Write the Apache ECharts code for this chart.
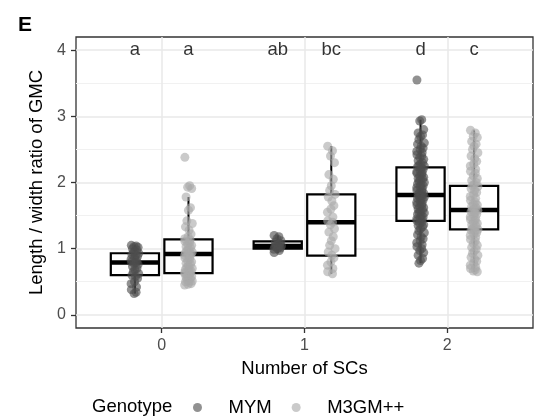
<!DOCTYPE html>
<html>
<head>
<meta charset="utf-8">
<script src="https://cdn.jsdelivr.net/npm/echarts@6/dist/echarts.min.js"></script>
<style>
  html, body { margin: 0; padding: 0; background: #ffffff; }
  #chart { width: 540px; height: 418px; }
</style>
</head>
<body>
<div id="chart"></div>
<script>
// Number of SCs (x categories) and genotypes
const categories = ['0', '1', '2'];
const genotypes = ['MYM', 'M3GM++'];
const yTicks = [0, 1, 2, 3, 4];
const yMinorTicks = [0.5, 1.5, 2.5, 3.5];

// Box summaries per category: [lower whisker, Q1, median, Q3, upper whisker]
const mymBoxes = [
  [0.32, 0.60, 0.79, 0.93, 1.05],
  [0.93, 1.00, 1.04, 1.11, 1.20],
  [0.78, 1.42, 1.81, 2.23, 2.95]
];
const m3gmBoxes = [
  [0.45, 0.63, 0.92, 1.14, 1.78],
  [0.62, 0.895, 1.40, 1.82, 2.55],
  [0.65, 1.29, 1.585, 1.95, 2.79]
];

// Individual GMC length / width ratios
const mymPoints0 = [1.05, 1.04, 1.03, 1.02, 1.00, 0.98, 0.96, 0.94, 0.93, 0.91, 0.90, 0.88, 0.86,
  0.84, 0.82, 0.80, 0.79, 0.78, 0.76, 0.73, 0.70, 0.68, 0.65, 0.62, 0.60, 0.58, 0.55, 0.50, 0.47,
  0.42, 0.38, 0.34, 0.32];
const mymPoints1 = [1.20, 1.18, 1.15, 1.12, 1.10, 1.08, 1.06, 1.05, 1.04, 1.03, 1.02, 1.01, 1.00,
  0.99, 0.97, 0.94];
const mymPoints2 = [3.55, 2.95, 2.93, 2.80, 2.75, 2.72, 2.70, 2.65, 2.60, 2.58, 2.55, 2.52, 2.50,
  2.47, 2.45, 2.42, 2.40, 2.38, 2.35, 2.33, 2.30, 2.28, 2.26, 2.25, 2.24, 2.22, 2.20, 2.18, 2.16,
  2.15, 2.14, 2.12, 2.10, 2.08, 2.06, 2.05, 2.04, 2.02, 2.00, 1.98, 1.96, 1.95, 1.94, 1.92, 1.90,
  1.88, 1.86, 1.85, 1.84, 1.82, 1.81, 1.80, 1.79, 1.78, 1.76, 1.75, 1.74, 1.72, 1.70, 1.68, 1.66,
  1.65, 1.64, 1.62, 1.60, 1.58, 1.56, 1.55, 1.54, 1.52, 1.50, 1.48, 1.46, 1.45, 1.44, 1.42, 1.40,
  1.38, 1.36, 1.35, 1.33, 1.30, 1.27, 1.24, 1.21, 1.18, 1.15, 1.12, 1.09, 1.06, 1.03, 1.00, 0.97,
  0.94, 0.90, 0.85, 0.82, 0.78];
const m3gmPoints0 = [2.38, 1.95, 1.93, 1.91, 1.78, 1.62, 1.58, 1.42, 1.38, 1.33, 1.28, 1.22, 1.18,
  1.15, 1.13, 1.11, 1.09, 1.07, 1.05, 1.03, 1.01, 0.99, 0.97, 0.95, 0.94, 0.93, 0.92, 0.91, 0.90,
  0.88, 0.86, 0.84, 0.82, 0.80, 0.78, 0.76, 0.74, 0.72, 0.70, 0.69, 0.68, 0.66, 0.65, 0.64, 0.63,
  0.62, 0.61, 0.59, 0.58, 0.57, 0.55, 0.54, 0.53, 0.51, 0.50, 0.49, 0.47, 0.46, 0.45];
const m3gmPoints1 = [2.55, 2.48, 2.40, 2.30, 2.12, 2.05, 1.95, 1.88, 1.82, 1.78, 1.72, 1.65, 1.60,
  1.55, 1.48, 1.42, 1.40, 1.36, 1.30, 1.25, 1.18, 1.12, 1.05, 1.00, 0.95, 0.90, 0.86, 0.80, 0.75,
  0.70, 0.65, 0.62];
const m3gmPoints2 = [2.79, 2.75, 2.70, 2.68, 2.62, 2.58, 2.55, 2.50, 2.45, 2.40, 2.36, 2.32, 2.28,
  2.25, 2.20, 2.17, 2.14, 2.10, 2.06, 2.03, 2.00, 1.97, 1.95, 1.94, 1.91, 1.88, 1.85, 1.82, 1.79,
  1.76, 1.73, 1.70, 1.68, 1.66, 1.64, 1.62, 1.60, 1.59, 1.58, 1.56, 1.54, 1.52, 1.50, 1.48, 1.46,
  1.44, 1.42, 1.40, 1.38, 1.36, 1.34, 1.32, 1.30, 1.29, 1.28, 1.26, 1.24, 1.22, 1.20, 1.17, 1.14,
  1.11, 1.08, 1.05, 1.02, 0.99, 0.96, 0.93, 0.90, 0.87, 0.84, 0.81, 0.78, 0.75, 0.72, 0.70, 0.68,
  0.66, 0.65];
const mymPoints = [mymPoints0, mymPoints1, mymPoints2];
const m3gmPoints = [m3gmPoints0, m3gmPoints1, m3gmPoints2];

// Significance letters above each group
const mymLetters = ['a', 'ab', 'd'];
const m3gmLetters = ['a', 'bc', 'c'];
const letterY = 4;

// ---- layout ----
const FONT = '"Liberation Sans", Arial, Helvetica, sans-serif';
const DODGE = 0.1875;     // half distance between dodged groups (x units)
const BOX_W = 0.3375;     // box width (x units)
const JITTER = 0.028;     // jitter half width (x units)
const jitterPattern = [-0.9, 0.3, -0.2, 0.8, -0.6, 0.5, 0.0, -0.4, 0.95, -0.75, 0.15, 0.65, -0.1, -0.95, 0.4];

const offsets = [-DODGE, DODGE];
const colors = ['#4d4d4d', '#aaaaaa'];

function boxData(boxes, g) {
  return boxes.map((b, i) => [i + offsets[g]].concat(b));
}
function pointData(groups, g) {
  const out = [];
  groups.forEach((vals, i) => {
    vals.forEach((v, k) => {
      out.push([i + offsets[g] + jitterPattern[k % jitterPattern.length] * JITTER, v]);
    });
  });
  return out;
}
function letterData(letters, g) {
  return letters.map((t, i) => ({ value: [i + offsets[g], letterY], name: t }));
}

function renderBox(params, api) {
  const x = api.value(0);
  const cx = api.coord([x, 0])[0];
  const left = api.coord([x - BOX_W / 2, 0])[0];
  const right = api.coord([x + BOX_W / 2, 0])[0];
  const yLo = api.coord([x, api.value(1)])[1];
  const yQ1 = api.coord([x, api.value(2)])[1];
  const yMed = api.coord([x, api.value(3)])[1];
  const yQ3 = api.coord([x, api.value(4)])[1];
  const yHi = api.coord([x, api.value(5)])[1];
  const ink = '#000000';
  return {
    type: 'group',
    children: [
      { type: 'line', shape: { x1: cx, y1: yHi, x2: cx, y2: yQ3 }, style: { stroke: ink, lineWidth: 2 } },
      { type: 'line', shape: { x1: cx, y1: yQ1, x2: cx, y2: yLo }, style: { stroke: ink, lineWidth: 2 } },
      { type: 'rect', shape: { x: left, y: yQ3, width: right - left, height: yQ1 - yQ3 },
        style: { fill: '#ffffff', stroke: ink, lineWidth: 2.2 } },
      { type: 'line', shape: { x1: left, y1: yMed, x2: right, y2: yMed }, style: { stroke: ink, lineWidth: 4.6 } }
    ]
  };
}

const chart = echarts.init(document.getElementById('chart'), null, { renderer: 'canvas' });

const series = [];
[mymBoxes, m3gmBoxes].forEach((boxes, g) => {
  series.push({
    name: genotypes[g] + ' box',
    type: 'custom',
    renderItem: renderBox,
    data: boxData(boxes, g),
    encode: { x: 0, y: [1, 2, 3, 4, 5] },
    z: 2,
    silent: true
  });
});
[mymPoints, m3gmPoints].forEach((groups, g) => {
  series.push({
    name: genotypes[g],
    type: 'scatter',
    data: pointData(groups, g),
    symbol: 'circle',
    symbolSize: 9,
    itemStyle: { color: colors[g], opacity: 0.62 },
    z: 3,
    silent: true
  });
});
[mymLetters, m3gmLetters].forEach((letters, g) => {
  series.push({
    name: genotypes[g] + ' letters',
    type: 'scatter',
    data: letterData(letters, g),
    symbolSize: 0,
    label: {
      show: true, position: 'inside', formatter: p => p.name,
      color: '#000000', fontSize: 18.5, fontFamily: FONT
    },
    z: 4,
    silent: true
  });
});

chart.setOption({
  animation: false,
  backgroundColor: '#ffffff',
  textStyle: { fontFamily: FONT },
  title: [
    { text: 'E', left: 13, top: 10,
      textStyle: { fontSize: 21, fontWeight: 'bold', color: '#000000', fontFamily: FONT } },
    { text: 'Genotype', left: 87, top: 392,
      textStyle: { fontSize: 18.5, fontWeight: 'normal', color: '#000000', fontFamily: FONT } }
  ],
  legend: {
    data: genotypes,
    left: 188, top: 393,
    orient: 'horizontal',
    icon: 'circle',
    itemWidth: 18, itemHeight: 9, itemGap: 20,
    textStyle: { fontSize: 18.5, color: '#000000', fontFamily: FONT, padding: [0, 0, 0, 17] },
    selectedMode: false
  },
  grid: {
    left: 76, right: 7, top: 37, bottom: 90,
    show: true, borderColor: '#333333', borderWidth: 1.3, backgroundColor: 'transparent'
  },
  xAxis: {
    type: 'value', min: -0.6, max: 2.6, position: 'bottom',
    name: 'Number of SCs', nameLocation: 'middle', nameGap: 31,
    nameTextStyle: { fontSize: 18.5, color: '#000000', fontFamily: FONT },
    axisLine: { show: false, onZero: false },
    axisTick: { show: true, customValues: [0, 1, 2], length: 5, lineStyle: { color: '#333333', width: 1.3 } },
    axisLabel: { customValues: [0, 1, 2], formatter: v => categories[Math.round(v)],
      color: '#4d4d4d', fontSize: 16, margin: 10, fontFamily: FONT },
    splitLine: { show: true, lineStyle: { color: '#e9e9e9', width: 1.5 } }
  },
  yAxis: [
    {
      type: 'value', min: -0.2, max: 4.2, position: 'left',
      name: 'Length / width ratio of GMC', nameLocation: 'middle', nameGap: 28, nameRotate: 90,
      nameTextStyle: { fontSize: 18.5, color: '#000000', fontFamily: FONT },
      axisLine: { show: false, onZero: false },
      axisTick: { show: true, customValues: yTicks, length: 5, lineStyle: { color: '#333333', width: 1.3 } },
      axisLabel: { customValues: yTicks, color: '#4d4d4d', fontSize: 16, margin: 10, fontFamily: FONT },
      splitLine: { show: true, lineStyle: { color: '#e9e9e9', width: 1.5 } }
    },
    {
      type: 'value', min: -0.2, max: 4.2, position: 'right',
      axisLine: { show: false, onZero: false },
      axisTick: { show: false, customValues: yMinorTicks },
      axisLabel: { show: false, customValues: yMinorTicks },
      splitLine: { show: true, lineStyle: { color: '#f1f1f1', width: 1 } }
    }
  ],
  series: series
});
</script>
</body>
</html>
